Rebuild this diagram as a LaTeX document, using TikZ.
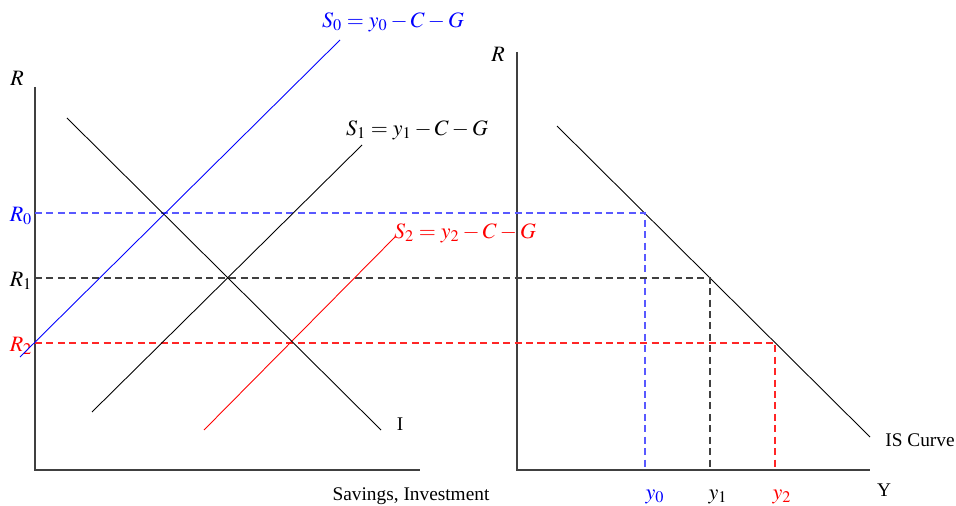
\documentclass[tikz,border=0pt]{standalone}
\usepackage{mathptmx}
\usepackage{fontspec}
\setmainfont{Liberation Serif}
\begin{document}
\begin{tikzpicture}[x=0.02cm,y=-0.02cm,
  axis/.style={draw=black!75, line width=0.6pt},
  curve/.style={line width=0.5pt},
  guide/.style={dash pattern=on 4pt off 2.5pt, line width=0.6pt},
  lbl/.style={inner sep=0pt, font=\fontsize{11}{13}\selectfont},
  mlbl/.style={inner sep=0pt, font=\fontsize{12.5}{14}\selectfont}]
\useasboundingbox (0,0) rectangle (956,506);
% left panel axes
\coordinate (LT) at (35,87);
\coordinate (LO) at (35,470);
\coordinate (LR) at (420,470);
\draw[axis] (LT) -- (LO) -- (LR);
\node[mlbl] (Rl) at (17,78) {$R$};
% right panel axes
\coordinate (RT) at (517,52);
\coordinate (RO) at (517,470);
\coordinate (RR) at (870,470);
\draw[axis] (RT) -- (RO) -- (RR);
\node[mlbl] (Rr) at (498,54) {$R$};
% IS curve
\coordinate (IS1) at (557,126);
\coordinate (IS2) at (870,437);
\draw[curve] (IS1) -- (IS2);
\node[lbl] (ISl) at (920,440) {IS Curve};
% intersection points on IS
\coordinate (P0) at (645,213);
\coordinate (P1) at (710,278);
\coordinate (P2) at (775,343);
\coordinate (A0) at (35,213);
\coordinate (A1) at (35,278);
\coordinate (A2) at (35,343);
\coordinate (B0) at (645,470);
\coordinate (B1) at (710,470);
\coordinate (B2) at (775,470);
\draw[guide, draw=blue!65] (A0) -- (P0) -- (B0);
\draw[guide, draw=black!75] (A1) -- (P1) -- (B1);
\draw[guide, draw=red!85] (A2) -- (P2) -- (B2);
\node[mlbl, blue] (R0) at (21,216) {$R_0$};
\node[mlbl] (R1) at (21,281) {$R_1$};
\node[mlbl, red] (R2) at (21,346) {$R_2$};
\node[mlbl, blue] (y0) at (655,497) {$y_0$};
\node[mlbl] (y1) at (718,497) {$y_1$};
\node[mlbl, red] (y2) at (782,497) {$y_2$};
\node[lbl] (Yl) at (884,490) {Y};
% savings lines
\coordinate (S0a) at (20,357);
\coordinate (S0b) at (340,40);
\coordinate (S1a) at (92,412);
\coordinate (S1b) at (362,145);
\coordinate (S2a) at (204,430);
\coordinate (S2b) at (395,237);
\coordinate (Ia) at (67,118);
\coordinate (Ib) at (381,430);
\draw[curve, blue] (S0a) -- (S0b);
\draw[curve] (S1a) -- (S1b);
\draw[curve, red] (S2a) -- (S2b);
\draw[curve] (Ia) -- (Ib);
\node[mlbl, blue] (S0l) at (393,22) {$S_0 = y_0 - C - G$};
\node[mlbl] (S1l) at (417,130) {$S_1 = y_1 - C - G$};
\node[mlbl, red] (S2l) at (465,233) {$S_2 = y_2 - C - G$};
\node[lbl] (Il) at (400,424) {I};
\node[lbl] (SIl) at (411,496) {Savings, Investment};
\end{tikzpicture}
\end{document}
